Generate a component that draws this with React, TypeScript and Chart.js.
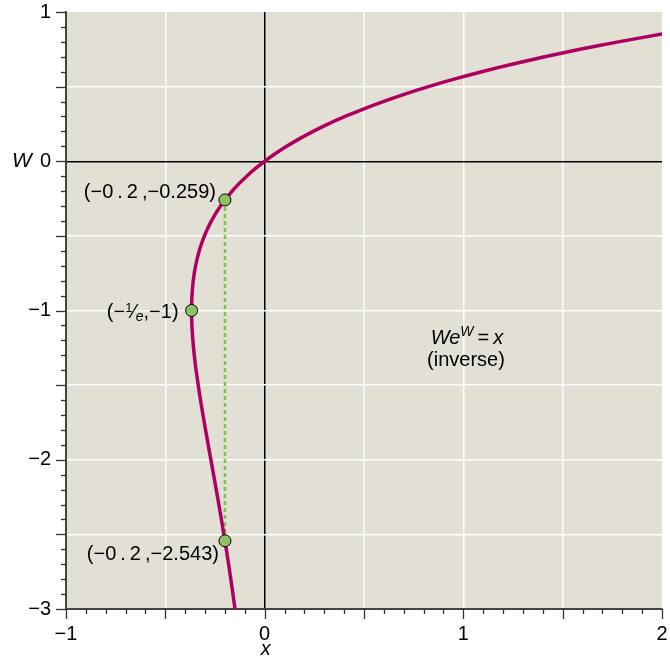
import React, { useEffect, useRef } from "react";
import { Chart, registerables } from "chart.js";
Chart.register(...registerables);

// Lambert W curve points (W value, x value)
const curveW = [-3, -2.8, -2.6, -2.4, -2.2, -2.0, -1.8, -1.6, -1.4, -1.3, -1.2, -1.1, -1.05, -1.0, -0.95, -0.9, -0.8, -0.7, -0.6, -0.5, -0.4, -0.3, -0.2, -0.15, -0.1, -0.05, 0, 0.05, 0.1, 0.15, 0.2, 0.25, 0.3, 0.35, 0.4, 0.45, 0.5, 0.55, 0.6, 0.65, 0.7, 0.75, 0.8, 0.853];
const curveX = [-0.1494, -0.1703, -0.1931, -0.2177, -0.2438, -0.2707, -0.2975, -0.3230, -0.3452, -0.3543, -0.3614, -0.3662, -0.3674, -0.3679, -0.3674, -0.3659, -0.3595, -0.3476, -0.3293, -0.3033, -0.2681, -0.2222, -0.1637, -0.1291, -0.0905, -0.0476, 0, 0.0526, 0.1105, 0.1743, 0.2443, 0.3210, 0.4050, 0.4967, 0.5967, 0.7057, 0.8244, 0.9533, 1.0933, 1.2451, 1.4096, 1.5878, 1.7804, 2.0017];

// Marked points
const markX = [-0.2, -0.3679, -0.2];
const markW = [-0.259, -1, -2.543];

// Dashed connector
const dashX = [-0.2, -0.2];
const dashW = [-0.259, -2.543];

const xMin = -1, xMax = 2, yMin = -3, yMax = 1;
const xTickLabels = ["−1", "0", "1", "2"];
const yTickLabels = ["−3", "−2", "−1", "0", "1"];

const FONT = "'Liberation Sans', Arial, Helvetica, sans-serif";
const BG = "#e2dfd5";
const CURVE = "#b0005f";
const PT = "#8dc263";
const DASH = "#7ec445";

const near = (v: number, t: number) => Math.abs(v - t) < 1e-6;
const isInt = (v: number) => near(v, Math.round(v));
const isHalf = (v: number) => near(v * 2, Math.round(v * 2));

const fmt = (v: number, labels: string[], min: number) => {
  if (!isInt(v)) return "";
  const i = Math.round(v) - min;
  return labels[i] ?? "";
};

type Part = { t: string; font: string; dy: number };
function drawParts(ctx: CanvasRenderingContext2D, parts: Part[], x: number, y: number, align: "left" | "right" | "center") {
  let total = 0;
  for (const p of parts) { ctx.font = p.font; total += ctx.measureText(p.t).width; }
  let cx = align === "left" ? x : align === "right" ? x - total : x - total / 2;
  ctx.textAlign = "left";
  ctx.textBaseline = "alphabetic";
  for (const p of parts) {
    ctx.font = p.font;
    ctx.fillText(p.t, cx, y + p.dy);
    cx += ctx.measureText(p.t).width;
  }
}

const bgPlugin = {
  id: "bgPlugin",
  beforeDraw(chart: any) {
    const { ctx, chartArea: a } = chart;
    ctx.save();
    ctx.fillStyle = BG;
    ctx.fillRect(a.left, a.top, a.right - a.left, a.bottom - a.top);
    ctx.restore();
  },
};

const overlayPlugin = {
  id: "overlayPlugin",
  afterDraw(chart: any) {
    const { ctx, chartArea: a } = chart;
    const xs = chart.scales.x, ys = chart.scales.y;
    ctx.save();
    // tick marks
    ctx.strokeStyle = "#333";
    ctx.lineWidth = 1.3;
    for (let i = 0; i <= 40; i++) {
      const v = yMin + i * 0.1;
      const py = Math.round(ys.getPixelForValue(v)) + 0.5;
      const len = isHalf(v) ? 10 : 5;
      ctx.beginPath();
      ctx.moveTo(a.left - len, py);
      ctx.lineTo(a.left, py);
      ctx.stroke();
    }
    for (let i = 0; i <= 30; i++) {
      const v = xMin + i * 0.1;
      const px = Math.round(xs.getPixelForValue(v)) + 0.5;
      const len = isHalf(v) ? 10 : 5;
      ctx.beginPath();
      ctx.moveTo(px, a.bottom);
      ctx.lineTo(px, a.bottom + len);
      ctx.stroke();
    }
    // axis titles
    ctx.fillStyle = "#000";
    ctx.font = `italic 21px ${FONT}`;
    ctx.textAlign = "center";
    ctx.textBaseline = "middle";
    ctx.fillText("W", 22, ys.getPixelForValue(0));
    ctx.font = `italic 20px ${FONT}`;
    ctx.fillText("x", xs.getPixelForValue(0) + 1, 649);

    const normal = `20px ${FONT}`;
    const small = `13px ${FONT}`;
    const ital = `italic 20px ${FONT}`;
    const italSmall = `italic 14px ${FONT}`;

    // point labels
    const p0x = xs.getPixelForValue(markX[0]), p0y = ys.getPixelForValue(markW[0]);
    drawParts(ctx, [{ t: "(−0\u2009.\u20092\u2009,−0.259)", font: normal, dy: 0 }], p0x - 9, p0y - 2, "right");
    const p1x = xs.getPixelForValue(markX[1]), p1y = ys.getPixelForValue(markW[1]);
    drawParts(ctx, [
      { t: "(−", font: normal, dy: 0 },
      { t: "1", font: small, dy: -6 },
      { t: "⁄", font: normal, dy: 0 },
      { t: "e", font: italSmall, dy: 3 },
      { t: ",−1)", font: normal, dy: 0 },
    ], p1x - 13, p1y + 7, "right");
    const p2x = xs.getPixelForValue(markX[2]), p2y = ys.getPixelForValue(markW[2]);
    drawParts(ctx, [{ t: "(−0\u2009.\u20092\u2009,−2.543)", font: normal, dy: 0 }], p2x - 6, p2y + 19, "right");

    // equation
    drawParts(ctx, [
      { t: "We", font: ital, dy: 0 },
      { t: "W", font: italSmall, dy: -8 },
      { t: "\u2009=\u2009", font: normal, dy: 0 },
      { t: "x", font: ital, dy: 0 },
    ], 467, 344, "center");
    drawParts(ctx, [{ t: "(inverse)", font: normal, dy: 0 }], 466, 366, "center");
    ctx.restore();
  },
};

const zeroPad = (s: any) => {
  s.paddingTop = 0; s.paddingBottom = 0; s.paddingLeft = 0; s.paddingRight = 0;
};

export default function App() {
  const ref = useRef<HTMLCanvasElement>(null);
  useEffect(() => {
    document.body.style.margin = "0";
    const canvas = ref.current!;
    const chart = new Chart(canvas, {
      type: "scatter",
      data: {
        datasets: [
          {
            data: markX.map((x, i) => ({ x, y: markW[i] })),
            pointRadius: 6,
            pointBackgroundColor: PT,
            pointBorderColor: "#000",
            pointBorderWidth: 1,
            showLine: false,
          },
          {
            data: curveX.map((x, i) => ({ x, y: curveW[i] })),
            showLine: true,
            borderColor: CURVE,
            borderWidth: 3.5,
            pointRadius: 0,
            tension: 0.3,
          },
          {
            data: dashX.map((x, i) => ({ x, y: dashW[i] })),
            showLine: true,
            borderColor: DASH,
            borderWidth: 2.5,
            borderDash: [4, 3],
            pointRadius: 0,
          },
        ],
      },
      options: {
        animation: false,
        responsive: false,
        maintainAspectRatio: false,
        layout: { padding: { left: 0, right: 8, top: 12, bottom: 0 } },
        plugins: { legend: { display: false }, tooltip: { enabled: false } },
        scales: {
          x: {
            type: "linear",
            min: xMin,
            max: xMax,
            afterFit: (s: any) => { s.height = 47; zeroPad(s); },
            border: { display: true, color: "#444", width: 2 },
            grid: {
              drawTicks: false,
              lineWidth: 1.5,
              color: (c: any) => {
                const v = c.tick?.value ?? 0;
                if (near(v, 0)) return "#000";
                if (near(v, xMin) || near(v, xMax)) return "rgba(0,0,0,0)";
                return isHalf(v) ? "#ffffff" : "rgba(0,0,0,0)";
              },
            },
            ticks: {
              stepSize: 0.1,
              autoSkip: false,
              maxRotation: 0,
              padding: 13,
              color: "#000",
              font: { family: FONT, size: 20 },
              callback: (v: any) => fmt(Number(v), xTickLabels, xMin),
            },
          },
          y: {
            type: "linear",
            min: yMin,
            max: yMax,
            afterFit: (s: any) => { s.width = 66; zeroPad(s); },
            border: { display: true, color: "#444", width: 2 },
            grid: {
              drawTicks: false,
              lineWidth: 1.5,
              color: (c: any) => {
                const v = c.tick?.value ?? 0;
                if (near(v, 0)) return "#000";
                if (near(v, yMin) || near(v, yMax)) return "rgba(0,0,0,0)";
                return isHalf(v) ? "#ffffff" : "rgba(0,0,0,0)";
              },
            },
            ticks: {
              stepSize: 0.1,
              autoSkip: false,
              padding: 15,
              color: "#000",
              font: { family: FONT, size: 20 },
              callback: (v: any) => fmt(Number(v), yTickLabels, yMin),
            },
          },
        },
      },
      plugins: [bgPlugin, overlayPlugin],
    });
    return () => chart.destroy();
  }, []);
  return (
    <div style={{ position: "absolute", left: 0, top: 0, width: 670, height: 656 }}>
      <canvas ref={ref} width={670} height={656} style={{ width: 670, height: 656, display: "block" }} />
    </div>
  );
}
